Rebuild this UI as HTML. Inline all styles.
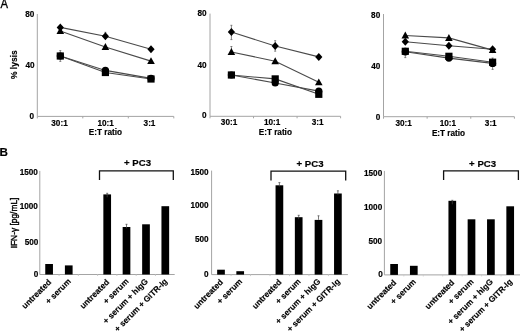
<!DOCTYPE html>
<html><head><meta charset="utf-8"><style>
html,body{margin:0;padding:0;background:#fff;width:520px;height:331px;overflow:hidden}
svg{display:block;filter:grayscale(1)}
text{font-family:"Liberation Sans", sans-serif;fill:#000;stroke:#000;stroke-width:0.18px}
</style></head><body>
<svg width="520" height="331" viewBox="0 0 520 331">
<text transform="translate(0.5 8.3) scale(0.84 1)" font-size="13.4" style="stroke-width:0.35px">A</text>
<text x="-0.5" y="156.3" font-size="11.7" font-weight="bold">B</text>
<g stroke="#a4a4a4" stroke-width="1" fill="none">
<path d="M37.30 14.00V116.40H173.80"/>
<path d="M37.30 116.40V118.40"/>
<path d="M82.80 116.40V118.40"/>
<path d="M128.30 116.40V118.40"/>
<path d="M173.80 116.40V118.40"/>
</g>
<text x="34.40" y="16.85" font-size="8.2" text-anchor="end" font-weight="bold" >80</text>
<text x="34.60" y="67.95" font-size="8.2" text-anchor="end" font-weight="bold" >40</text>
<text x="34.00" y="119.25" font-size="8.2" text-anchor="end" font-weight="bold" >0</text>
<text x="59.50" y="125.60" font-size="8.2" text-anchor="middle" font-weight="bold" >30:1</text>
<text x="105.60" y="125.60" font-size="8.2" text-anchor="middle" font-weight="bold" >10:1</text>
<text x="149.50" y="125.60" font-size="8.2" text-anchor="middle" font-weight="bold" >3:1</text>
<text x="105.40" y="134.80" font-size="8.2" text-anchor="middle" font-weight="bold" >E:T ratio</text>
<text transform="translate(16.8 64.7) rotate(-90)" font-size="8.5" text-anchor="middle" font-weight="bold">% lysis</text>
<g stroke="#555" stroke-width="0.7" fill="none">
<path d="M60.30 50.60V61.40M59.30 50.60H61.30M59.30 61.40H61.30"/>
<path d="M105.40 32.30V37.00M104.40 32.30H106.40M104.40 37.00H106.40"/>
</g>
<g stroke="#4a4a4a" stroke-width="1.1" fill="none">
<polyline points="60.30,27.40 105.40,36.30 151.00,49.20"/>
<polyline points="60.30,31.00 105.40,47.00 151.00,61.10"/>
<polyline points="60.30,56.00 105.40,70.40 151.00,78.40"/>
<polyline points="60.30,56.00 105.40,72.50 151.00,79.00"/>
</g>
<g fill="#000">
<path d="M60.30 23.40L63.90 27.40L60.30 31.40L56.70 27.40Z"/>
<path d="M105.40 32.30L109.00 36.30L105.40 40.30L101.80 36.30Z"/>
<path d="M151.00 45.20L154.60 49.20L151.00 53.20L147.40 49.20Z"/>
<path d="M60.30 27.10L64.10 34.00L56.50 34.00Z"/>
<path d="M105.40 43.10L109.20 50.00L101.60 50.00Z"/>
<path d="M151.00 57.20L154.80 64.10L147.20 64.10Z"/>
<circle cx="60.30" cy="56.00" r="3.60"/>
<circle cx="105.40" cy="70.40" r="3.60"/>
<circle cx="151.00" cy="78.40" r="3.60"/>
<rect x="56.70" y="52.40" width="7.20" height="7.20"/>
<rect x="101.80" y="68.90" width="7.20" height="7.20"/>
<rect x="147.40" y="75.40" width="7.20" height="7.20"/>
</g>
<g stroke="#a4a4a4" stroke-width="1" fill="none">
<path d="M210.00 13.60V116.30H340.60"/>
<path d="M210.00 116.30V118.30"/>
<path d="M253.53 116.30V118.30"/>
<path d="M297.07 116.30V118.30"/>
<path d="M340.60 116.30V118.30"/>
</g>
<text x="206.50" y="16.25" font-size="8.2" text-anchor="end" font-weight="bold" >80</text>
<text x="206.50" y="68.15" font-size="8.2" text-anchor="end" font-weight="bold" >40</text>
<text x="206.50" y="117.95" font-size="8.2" text-anchor="end" font-weight="bold" >0</text>
<text x="229.05" y="125.00" font-size="8.2" text-anchor="middle" font-weight="bold" >30:1</text>
<text x="272.10" y="125.00" font-size="8.2" text-anchor="middle" font-weight="bold" >10:1</text>
<text x="317.65" y="125.00" font-size="8.2" text-anchor="middle" font-weight="bold" >3:1</text>
<text x="275.30" y="134.90" font-size="8.2" text-anchor="middle" font-weight="bold" >E:T ratio</text>
<g stroke="#555" stroke-width="0.7" fill="none">
<path d="M231.40 25.30V39.60M230.40 25.30H232.40M230.40 39.60H232.40"/>
<path d="M275.20 40.70V51.20M274.20 40.70H276.20M274.20 51.20H276.20"/>
<path d="M231.40 46.50V52.00M230.40 46.50H232.40M230.40 52.00H232.40"/>
</g>
<g stroke="#4a4a4a" stroke-width="1.1" fill="none">
<polyline points="231.40,32.00 275.20,46.00 318.80,56.90"/>
<polyline points="231.40,52.00 275.20,61.20 318.80,82.30"/>
<polyline points="231.40,75.00 275.20,83.00 318.80,91.10"/>
<polyline points="231.40,75.00 275.20,78.90 318.80,94.30"/>
</g>
<g fill="#000">
<path d="M231.40 28.00L235.00 32.00L231.40 36.00L227.80 32.00Z"/>
<path d="M275.20 42.00L278.80 46.00L275.20 50.00L271.60 46.00Z"/>
<path d="M318.80 52.90L322.40 56.90L318.80 60.90L315.20 56.90Z"/>
<path d="M231.40 48.10L235.20 55.00L227.60 55.00Z"/>
<path d="M275.20 57.30L279.00 64.20L271.40 64.20Z"/>
<path d="M318.80 78.40L322.60 85.30L315.00 85.30Z"/>
<circle cx="231.40" cy="75.00" r="3.60"/>
<circle cx="275.20" cy="83.00" r="3.60"/>
<circle cx="318.80" cy="91.10" r="3.60"/>
<rect x="227.80" y="71.40" width="7.20" height="7.20"/>
<rect x="271.60" y="75.30" width="7.20" height="7.20"/>
<rect x="315.20" y="90.70" width="7.20" height="7.20"/>
</g>
<g stroke="#a4a4a4" stroke-width="1" fill="none">
<path d="M383.50 14.00V116.70H514.40"/>
<path d="M383.50 116.70V118.70"/>
<path d="M427.13 116.70V118.70"/>
<path d="M470.77 116.70V118.70"/>
<path d="M514.40 116.70V118.70"/>
</g>
<text x="380.20" y="17.55" font-size="8.2" text-anchor="end" font-weight="bold" >80</text>
<text x="380.40" y="68.85" font-size="8.2" text-anchor="end" font-weight="bold" >40</text>
<text x="380.40" y="120.15" font-size="8.2" text-anchor="end" font-weight="bold" >0</text>
<text x="403.70" y="125.80" font-size="8.2" text-anchor="middle" font-weight="bold" >30:1</text>
<text x="447.90" y="125.80" font-size="8.2" text-anchor="middle" font-weight="bold" >10:1</text>
<text x="490.75" y="125.80" font-size="8.2" text-anchor="middle" font-weight="bold" >3:1</text>
<text x="448.50" y="135.60" font-size="8.2" text-anchor="middle" font-weight="bold" >E:T ratio</text>
<g stroke="#555" stroke-width="0.7" fill="none">
<path d="M405.30 48.00V57.60M404.30 48.00H406.30M404.30 57.60H406.30"/>
<path d="M492.60 58.00V69.40M491.60 58.00H493.60M491.60 69.40H493.60"/>
</g>
<g stroke="#4a4a4a" stroke-width="1.1" fill="none">
<polyline points="405.30,41.70 448.90,45.70 492.60,49.30"/>
<polyline points="405.30,35.50 448.90,37.90 492.60,50.10"/>
<polyline points="405.30,51.80 448.90,58.10 492.60,63.40"/>
<polyline points="405.30,51.30 448.90,56.30 492.60,62.20"/>
</g>
<g fill="#000">
<path d="M405.30 37.70L408.90 41.70L405.30 45.70L401.70 41.70Z"/>
<path d="M448.90 41.70L452.50 45.70L448.90 49.70L445.30 45.70Z"/>
<path d="M492.60 45.30L496.20 49.30L492.60 53.30L489.00 49.30Z"/>
<path d="M405.30 31.60L409.10 38.50L401.50 38.50Z"/>
<path d="M448.90 34.00L452.70 40.90L445.10 40.90Z"/>
<path d="M492.60 46.20L496.40 53.10L488.80 53.10Z"/>
<circle cx="405.30" cy="51.80" r="3.60"/>
<circle cx="448.90" cy="58.10" r="3.60"/>
<circle cx="492.60" cy="63.40" r="3.60"/>
<rect x="401.70" y="47.70" width="7.20" height="7.20"/>
<rect x="445.30" y="52.70" width="7.20" height="7.20"/>
<rect x="489.00" y="58.60" width="7.20" height="7.20"/>
</g>
<g stroke="#a4a4a4" stroke-width="1" fill="none">
<path d="M39.80 170.90V274.50H174.70"/>
</g>
<g stroke="#ccc" stroke-width="1" fill="none">
<path d="M59.07 274.50V276.00"/>
<path d="M78.34 274.50V276.00"/>
<path d="M97.61 274.50V276.00"/>
<path d="M116.89 274.50V276.00"/>
<path d="M136.16 274.50V276.00"/>
<path d="M155.43 274.50V276.00"/>
</g>
<text x="37.90" y="175.05" font-size="8.2" text-anchor="end" font-weight="bold" >1500</text>
<text x="37.90" y="208.75" font-size="8.2" text-anchor="end" font-weight="bold" >1000</text>
<text x="38.30" y="244.95" font-size="8.2" text-anchor="end" font-weight="bold" >500</text>
<text x="38.30" y="276.70" font-size="8.2" text-anchor="end" font-weight="bold" >0</text>
<g fill="#000">
<rect x="45.25" y="264.00" width="7.7" height="10.50"/>
<rect x="64.90" y="265.40" width="7.7" height="9.10"/>
<rect x="103.35" y="194.40" width="7.7" height="80.10"/>
<rect x="122.65" y="227.00" width="7.7" height="47.50"/>
<rect x="142.15" y="224.30" width="7.7" height="50.20"/>
<rect x="161.45" y="206.20" width="7.7" height="68.30"/>
</g>
<g stroke="#444" stroke-width="0.7" fill="none">
<path d="M126.50 224.30V228.30M125.50 224.30H127.50"/>
<path d="M107.20 193.30V197.30M106.20 193.30H108.20"/>
</g>
<path d="M99.50 180.00V170.90H173.30V180.00" stroke="#111" stroke-width="1.3" fill="none"/>
<text transform="translate(137.50 166.00) scale(1.06 1)" font-size="9.1" text-anchor="middle" font-weight="bold">+ PC3</text>
<text transform="translate(51.70 282.70) rotate(-45)" font-size="8.25" text-anchor="end" font-weight="bold">untreated</text>
<text transform="translate(71.35 281.90) rotate(-45)" font-size="8.25" text-anchor="end" font-weight="bold">+ serum</text>
<text transform="translate(109.80 282.70) rotate(-45)" font-size="8.25" text-anchor="end" font-weight="bold">untreated</text>
<text transform="translate(129.10 281.90) rotate(-45)" font-size="8.25" text-anchor="end" font-weight="bold">+ serum</text>
<text transform="translate(148.60 281.90) rotate(-45)" font-size="8.25" text-anchor="end" font-weight="bold">+ serum + hIgG</text>
<text transform="translate(167.90 281.90) rotate(-45)" font-size="8.25" text-anchor="end" font-weight="bold">+ serum + GITR-Ig</text>
<text transform="translate(16.7 223.0) rotate(-90)" font-size="8.4" text-anchor="middle" font-weight="normal" style="stroke-width:0.4px">IFN-&#947; [pg/mL]</text>
<g stroke="#a4a4a4" stroke-width="1" fill="none">
<path d="M211.60 170.60V274.60H347.90"/>
</g>
<g stroke="#ccc" stroke-width="1" fill="none">
<path d="M231.07 274.60V276.10"/>
<path d="M250.54 274.60V276.10"/>
<path d="M270.01 274.60V276.10"/>
<path d="M289.49 274.60V276.10"/>
<path d="M308.96 274.60V276.10"/>
<path d="M328.43 274.60V276.10"/>
</g>
<text x="208.60" y="174.55" font-size="8.2" text-anchor="end" font-weight="bold" >1500</text>
<text x="208.60" y="207.95" font-size="8.2" text-anchor="end" font-weight="bold" >1000</text>
<text x="208.60" y="242.35" font-size="8.2" text-anchor="end" font-weight="bold" >500</text>
<text x="208.50" y="277.45" font-size="8.2" text-anchor="end" font-weight="bold" >0</text>
<g fill="#000">
<rect x="217.15" y="269.70" width="7.7" height="4.90"/>
<rect x="236.35" y="271.20" width="7.7" height="3.40"/>
<rect x="275.55" y="185.30" width="7.7" height="89.30"/>
<rect x="294.85" y="217.20" width="7.7" height="57.40"/>
<rect x="314.65" y="219.90" width="7.7" height="54.70"/>
<rect x="334.05" y="193.50" width="7.7" height="81.10"/>
</g>
<g stroke="#444" stroke-width="0.7" fill="none">
<path d="M279.40 182.60V186.60M278.40 182.60H280.40"/>
<path d="M298.70 215.30V219.30M297.70 215.30H299.70"/>
<path d="M318.50 215.80V219.80M317.50 215.80H319.50"/>
<path d="M337.90 190.80V194.80M336.90 190.80H338.90"/>
</g>
<path d="M271.00 180.50V171.20H345.70V180.50" stroke="#111" stroke-width="1.3" fill="none"/>
<text transform="translate(310.00 166.90) scale(1.06 1)" font-size="9.1" text-anchor="middle" font-weight="bold">+ PC3</text>
<text transform="translate(223.60 282.80) rotate(-45)" font-size="8.25" text-anchor="end" font-weight="bold">untreated</text>
<text transform="translate(242.80 282.00) rotate(-45)" font-size="8.25" text-anchor="end" font-weight="bold">+ serum</text>
<text transform="translate(282.00 282.80) rotate(-45)" font-size="8.25" text-anchor="end" font-weight="bold">untreated</text>
<text transform="translate(301.30 282.00) rotate(-45)" font-size="8.25" text-anchor="end" font-weight="bold">+ serum</text>
<text transform="translate(321.10 282.00) rotate(-45)" font-size="8.25" text-anchor="end" font-weight="bold">+ serum + hIgG</text>
<text transform="translate(340.50 282.00) rotate(-45)" font-size="8.25" text-anchor="end" font-weight="bold">+ serum + GITR-Ig</text>
<g stroke="#a4a4a4" stroke-width="1" fill="none">
<path d="M384.40 170.90V274.90H520.50"/>
</g>
<g stroke="#ccc" stroke-width="1" fill="none">
<path d="M403.84 274.90V276.40"/>
<path d="M423.29 274.90V276.40"/>
<path d="M442.73 274.90V276.40"/>
<path d="M462.17 274.90V276.40"/>
<path d="M481.61 274.90V276.40"/>
<path d="M501.06 274.90V276.40"/>
</g>
<text x="382.20" y="175.65" font-size="8.2" text-anchor="end" font-weight="bold" >1500</text>
<text x="382.20" y="209.95" font-size="8.2" text-anchor="end" font-weight="bold" >1000</text>
<text x="382.20" y="243.75" font-size="8.2" text-anchor="end" font-weight="bold" >500</text>
<text x="382.70" y="277.25" font-size="8.2" text-anchor="end" font-weight="bold" >0</text>
<g fill="#000">
<rect x="390.25" y="264.00" width="7.7" height="10.90"/>
<rect x="409.95" y="265.80" width="7.7" height="9.10"/>
<rect x="448.45" y="200.80" width="7.7" height="74.10"/>
<rect x="467.65" y="219.30" width="7.7" height="55.60"/>
<rect x="487.05" y="219.30" width="7.7" height="55.60"/>
<rect x="506.35" y="206.30" width="7.7" height="68.60"/>
</g>
<g stroke="#444" stroke-width="0.7" fill="none">
<path d="M452.30 200.30V204.30M451.30 200.30H453.30"/>
</g>
<path d="M443.60 179.90V170.90H518.40V179.90" stroke="#111" stroke-width="1.3" fill="none"/>
<text transform="translate(482.60 166.90) scale(1.06 1)" font-size="9.1" text-anchor="middle" font-weight="bold">+ PC3</text>
<text transform="translate(396.70 283.10) rotate(-45)" font-size="8.25" text-anchor="end" font-weight="bold">untreated</text>
<text transform="translate(416.40 282.30) rotate(-45)" font-size="8.25" text-anchor="end" font-weight="bold">+ serum</text>
<text transform="translate(454.90 283.10) rotate(-45)" font-size="8.25" text-anchor="end" font-weight="bold">untreated</text>
<text transform="translate(474.10 282.30) rotate(-45)" font-size="8.25" text-anchor="end" font-weight="bold">+ serum</text>
<text transform="translate(493.50 282.30) rotate(-45)" font-size="8.25" text-anchor="end" font-weight="bold">+ serum + hIgG</text>
<text transform="translate(512.80 282.30) rotate(-45)" font-size="8.25" text-anchor="end" font-weight="bold">+ serum + GITR-Ig</text>
</svg>
</body></html>
